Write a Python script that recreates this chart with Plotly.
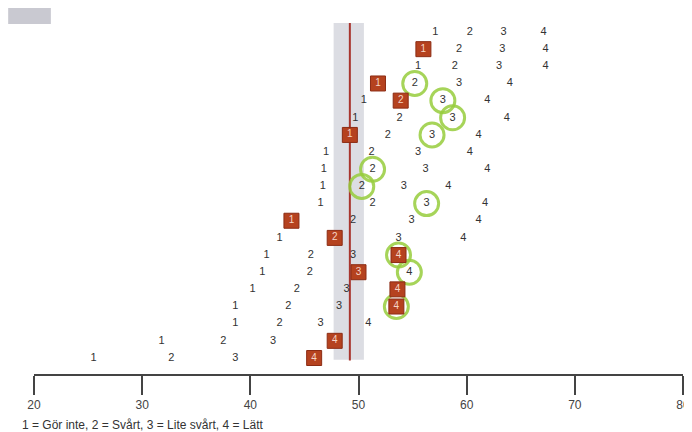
import plotly.graph_objects as go

# Row positions (top to bottom) of the four answer categories on the 20-80 scale
rows = list(range(1, 21))
pos_1 = [57.1, 56.0, 55.5, 51.8, 50.5, 49.7, 49.2, 47.0, 46.8, 46.7,
         46.5, 43.8, 42.7, 41.5, 41.1, 40.2, 38.6, 38.6, 31.8, 25.5]
pos_2 = [60.3, 59.3, 58.9, 55.2, 53.9, 53.8, 52.7, 51.2, 51.3, 50.3,
         51.3, 49.5, 47.8, 45.6, 45.5, 44.3, 43.5, 42.7, 37.5, 32.7]
pos_3 = [63.4, 63.3, 63.0, 59.3, 57.8, 58.7, 56.8, 55.5, 56.2, 54.2,
         56.3, 54.9, 53.7, 49.5, 50.0, 48.9, 48.2, 46.5, 42.1, 38.6]
pos_4 = [67.1, 67.3, 67.3, 64.0, 61.9, 63.7, 61.1, 60.3, 61.9, 58.3,
         61.7, 61.1, 59.7, 53.7, 54.7, 53.6, 53.5, 50.9, 47.8, 45.9]
# answer given (red box) and circled answer per row (None = none)
chosen = [None, 1, None, 1, 2, None, 1, None, None, None,
          None, 1, 2, 4, 3, 4, 4, None, 4, 4]
circled = [None, None, None, 2, 3, 3, 3, None, 2, 2,
           3, None, None, 4, 4, None, 4, None, None, None]
band_low, band_high = 47.7, 50.5
person_measure = 49.2
tick_vals = [20, 30, 40, 50, 60, 70, 80]
legend_text = "1 = Gör inte, 2 = Svårt, 3 = Lite svårt, 4 = Lätt"

positions = {1: pos_1, 2: pos_2, 3: pos_3, 4: pos_4}
FONT = "Liberation Sans, Arial, sans-serif"

fig = go.Figure()

# green circles
cx, cy = [], []
for r, c in zip(rows, circled):
    if c is not None:
        cx.append(positions[c][r - 1])
        cy.append(r)
fig.add_trace(go.Scatter(
    x=cx, y=cy, mode="markers",
    marker=dict(symbol="circle-open", size=24, color="rgba(150,205,60,0.85)",
                line=dict(width=3, color="rgba(150,205,60,0.85)")),
    hoverinfo="skip", showlegend=False))

for k in (1, 2, 3, 4):
    px, py, bx, by = [], [], [], []
    for r in rows:
        if chosen[r - 1] == k:
            bx.append(positions[k][r - 1]); by.append(r)
        else:
            px.append(positions[k][r - 1]); py.append(r)
    fig.add_trace(go.Scatter(
        x=px, y=py, mode="text", text=[str(k)] * len(px),
        textposition="middle center",
        textfont=dict(family=FONT, size=11, color="#333333"),
        hoverinfo="skip", showlegend=False))
    fig.add_trace(go.Scatter(
        x=bx, y=by, mode="markers+text", text=[str(k)] * len(bx),
        textposition="middle center",
        marker=dict(symbol="square", size=15, color="#b5421f",
                    line=dict(width=1, color="#8c2c14")),
        textfont=dict(family=FONT, size=10, color="#f6d6c6"),
        hoverinfo="skip", showlegend=False))

# grey band and red line
fig.add_shape(type="rect", xref="x", yref="y", x0=band_low, x1=band_high,
              y0=0.48, y1=20.1, fillcolor="#dcdde3", line_width=0, layer="below")
fig.add_shape(type="line", xref="x", yref="y", x0=person_measure, x1=person_measure,
              y0=0.48, y1=20.15, line=dict(color="#a8352e", width=2), layer="below")
# grey patch top-left
fig.add_shape(type="rect", xref="paper", yref="paper", x0=-0.0398, x1=0.026,
              y0=0.983, y1=1.03, fillcolor="#c9c9d1", line_width=0, layer="below")

fig.add_annotation(text=legend_text, xref="paper", yref="paper",
                   x=-14 / 653, y=-51 / 356, xanchor="left", yanchor="middle",
                   showarrow=False, font=dict(family=FONT, size=12, color="#333333"))

fig.update_layout(
    width=692, height=432,
    margin=dict(l=26, r=13, t=10, b=66),
    paper_bgcolor="white", plot_bgcolor="white",
    xaxis=dict(range=[20, 80], tickvals=tick_vals, ticks="outside", ticklen=19,
               tickwidth=2, tickcolor="#444444", showline=True, linewidth=2,
               linecolor="#444444", showgrid=False, zeroline=False,
               tickfont=dict(family=FONT, size=12, color="#444444"),
               fixedrange=True),
    yaxis=dict(range=[20.9325, 0.184], visible=False, showgrid=False,
               zeroline=False, fixedrange=True),
)

fig.write_html("out.html")
